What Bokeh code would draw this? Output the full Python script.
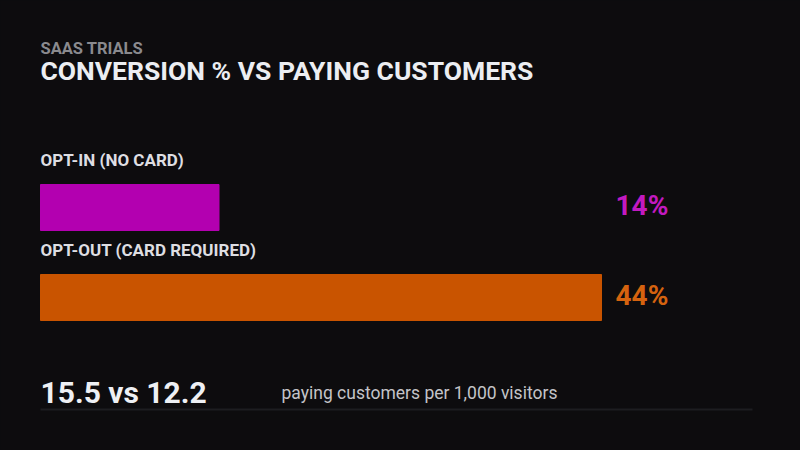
from bokeh.plotting import figure
from bokeh.models import Range1d, ColumnDataSource
from bokeh.core.properties import value
from bokeh.embed import file_html
from bokeh.resources import INLINE

# ---- data ----
categories = ["OPT-IN (NO CARD)", "OPT-OUT (CARD REQUIRED)"]
conversion_pct = [14, 44]
value_labels = ["14%", "44%"]
bar_colors = ["#b300b0", "#c95400"]
label_colors = ["#c21ac0", "#d5630f"]
kicker = "SAAS TRIALS"
title = "CONVERSION % VS PAYING CUSTOMERS"
customers_per_1000 = [15.5, 12.2]
footnote = "paying customers per 1,000 visitors"

BG = "#0d0c0e"
W, H = 800, 450
px_per_pct = 12.75
left_px = 40
x_start = -left_px / px_per_pct
x_end = (W - left_px) / px_per_pct
FONT = value("Roboto")

p = figure(width=W, height=H, output_backend="svg", toolbar_location=None,
           x_range=Range1d(x_start, x_end), y_range=Range1d(H, 0),
           min_border=0, background_fill_color=BG, border_fill_color=BG,
           outline_line_color=None)
p.axis.visible = False
p.grid.visible = False

bar_y = [207 + 90 * i for i in range(len(categories))]
src = ColumnDataSource(dict(y=bar_y, right=conversion_pct, color=bar_colors,
                            lab=value_labels, lcol=label_colors,
                            cat=categories,
                            cat_y=[y - 48 for y in bar_y],
                            lab_y=[y - 2 for y in bar_y],
                            lab_x=[max(conversion_pct) * 1.025] * len(categories)))

p.hbar(y="y", left=0, right="right", height=46, color="color", source=src)

p.text(x=0, y="cat_y", text="cat", source=src, text_color="#dedee2",
       text_font_size="17px", text_font_style="bold", text_font=FONT,
       text_baseline="middle")
p.text(x="lab_x", y="lab_y", text="lab", source=src, text_color="lcol",
       text_font_size="28px", text_font_style="bold", text_font=FONT,
       text_baseline="middle")

def add_text(txt, y, size, color, style="bold", x=0.0):
    p.text(x=[x], y=[y], text=[txt], text_font=FONT, text_font_size=size,
           text_font_style=style, text_color=color, text_baseline="middle")

add_text(kicker, 47.5, "16.5px", "#8a8a8e")
add_text(title, 69.5, "26.5px", "#eceef2")
add_text(f"{customers_per_1000[0]} vs {customers_per_1000[1]}", 391.5, "30px", "#eef0f4")
add_text(footnote, 392, "17.5px", "#c4c4c8", style="normal",
         x=(281 - left_px) / px_per_pct)

p.line(x=[0, (752 - left_px) / px_per_pct], y=[409, 409], line_color="#1d1d20", line_width=2)

html = file_html(p, INLINE)
html = html.replace("<body>", f'<body style="margin:0;background:{BG};">')
open("out.html", "w").write(html)
